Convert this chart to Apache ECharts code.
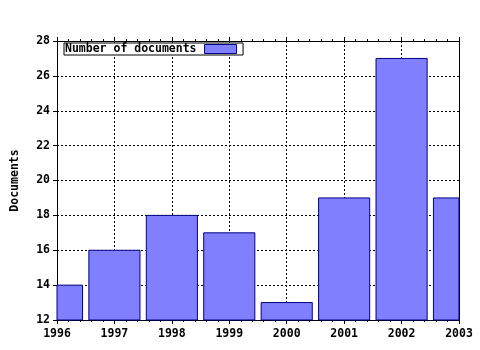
<!DOCTYPE html>
<html><head><meta charset="utf-8">
<script src="https://cdn.jsdelivr.net/npm/echarts@6/dist/echarts.min.js"></script>
<style>html,body{margin:0;padding:0;background:#fff}#c{width:480px;height:350px}</style>
</head><body><div id="c"></div>
<script>
const years = [1996, 1997, 1998, 1999, 2000, 2001, 2002, 2003];
const documents = [14, 16, 18, 17, 13, 19, 27, 19];
const seriesName = 'Number of documents';
const yAxisName = 'Documents';
const barFraction = 0.89; // bar width as a fraction of one year

const FONT = 'DejaVu Sans Mono';
const txt = {fontFamily: FONT, fontWeight: 'bold', fontSize: 11.5, color: '#000'};
const chart = echarts.init(document.getElementById('c'), null, {renderer: 'canvas'});
const lineStyle = {color: '#000', width: 1};
const barStyle = {color: '#8080ff', borderColor: '#000080', borderWidth: 1};
const Y_MIN = 12;
chart.setOption({
  animation: false,
  backgroundColor: '#fff',
  grid: {left: 57, right: 21, top: 41, bottom: 30, containLabel: false, outerBoundsMode: 'none'},
  legend: {
    show: true, left: 64, top: 43, orient: 'horizontal', align: 'right',
    data: [{name: seriesName, icon: 'rect', itemStyle: barStyle}],
    itemWidth: 32, itemHeight: 9,
    backgroundColor: '#fff', borderColor: '#000', borderWidth: 1,
    padding: [0, 6, 0, 1], itemGap: 0,
    textStyle: Object.assign({}, txt, {padding: [0, 3, 0, 0]})
  },
  xAxis: [{
    type: 'value', min: 1996, max: 2003, interval: 1, position: 'bottom',
    axisLine: {show: true, lineStyle},
    axisTick: {show: true, inside: false, length: 4, lineStyle},
    minorTick: {show: true, splitNumber: 5, length: 2, lineStyle},
    axisLabel: Object.assign({}, txt, {margin: 8, formatter: v => String(v)}),
    splitLine: {show: true, lineStyle: {color: '#000', width: 1, type: [2, 2]}}
  }, {
    type: 'value', min: 1996, max: 2003, interval: 1, position: 'top',
    axisLine: {show: true, lineStyle},
    axisTick: {show: true, inside: false, length: 4, lineStyle},
    minorTick: {show: true, splitNumber: 5, length: 2, lineStyle},
    axisLabel: {show: false}, splitLine: {show: false}
  }],
  yAxis: [{
    type: 'value', min: Y_MIN, max: 28, interval: 2, position: 'left',
    name: yAxisName, nameLocation: 'middle', nameGap: 36, nameRotate: 90,
    nameTextStyle: txt,
    axisLine: {show: true, lineStyle},
    axisTick: {show: true, inside: false, length: 4, lineStyle},
    axisLabel: Object.assign({}, txt, {margin: 7}),
    splitLine: {show: true, lineStyle: {color: '#000', width: 1, type: [2, 2]}}
  }, {
    type: 'value', min: Y_MIN, max: 28, interval: 2, position: 'right',
    axisLine: {show: true, lineStyle},
    axisTick: {show: false}, axisLabel: {show: false}, splitLine: {show: false}
  }],
  series: [{
    name: seriesName, type: 'custom', xAxisIndex: 0, yAxisIndex: 0,
    itemStyle: barStyle,
    encode: {x: 0, y: 1},
    renderItem: function (params, api) {
      const x = api.value(0), v = api.value(1);
      const half = barFraction / 2;
      const p0 = api.coord([x - half, v]);
      const p1 = api.coord([x + half, Y_MIN]);
      const cs = params.coordSys;
      const shape = echarts.graphic.clipRectByRect(
        {x: p0[0], y: p0[1], width: p1[0] - p0[0], height: p1[1] - p0[1]},
        {x: cs.x, y: cs.y, width: cs.width, height: cs.height});
      return shape && {type: 'rect', shape: shape, style: api.style(barStyle), z2: 1};
    },
    data: years.map((y, i) => [y, documents[i]])
  }]
});
</script></body></html>
